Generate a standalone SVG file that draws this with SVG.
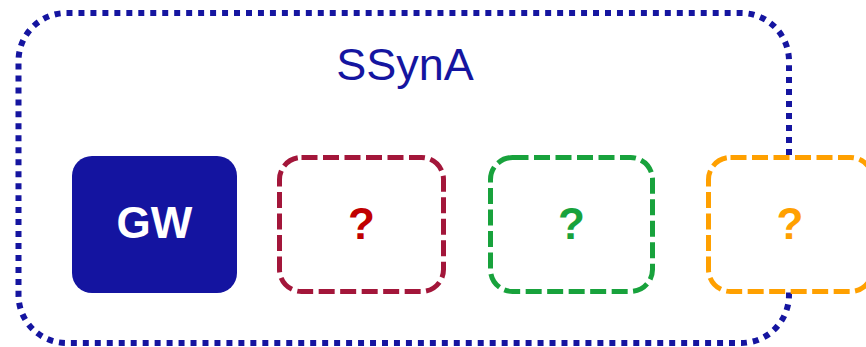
<svg xmlns="http://www.w3.org/2000/svg" width="866" height="347" viewBox="0 0 866 347">
<style>
.box{fill:#ffffff;stroke-width:5;stroke-dasharray:16 5.5;stroke-linecap:butt}
.q{font-family:"Liberation Sans",Arial,sans-serif;font-weight:bold;font-size:44px;text-anchor:middle}
</style>
<g id="ssyna">
<rect x="18.5" y="13" width="770.5" height="330" rx="48" ry="48" pathLength="2124" fill="none" stroke="#1515a0" stroke-width="6" stroke-dasharray="6 6"/>
<text x="405" y="80" font-family="Liberation Sans, Arial, sans-serif" font-size="45" fill="#1515a0" text-anchor="middle">SSynA</text>
</g>
<g id="connectors"></g>
<g id="gw">
<rect x="72" y="156" width="165" height="137" rx="20" ry="20" fill="#1414a0"/>
<text x="154.5" y="238" class="q" fill="#ffffff" font-size="43">GW</text>
</g>
<g id="red">
<rect class="box" x="279.5" y="157.5" width="164" height="134" rx="22" ry="22" stroke="#a3163a"/>
<text x="361.5" y="239" class="q" fill="#c00000">?</text>
</g>
<g id="green">
<rect class="box" x="490.5" y="157.5" width="162" height="134" rx="22" ry="22" stroke="#18a23c"/>
<text x="571.5" y="239" class="q" fill="#18a23c">?</text>
</g>
<g id="orange">
<rect class="box" x="708.5" y="157.5" width="164" height="134" rx="22" ry="22" stroke="#ffa000"/>
<text x="790" y="239" class="q" fill="#ffa000">?</text>
</g>
</svg>
